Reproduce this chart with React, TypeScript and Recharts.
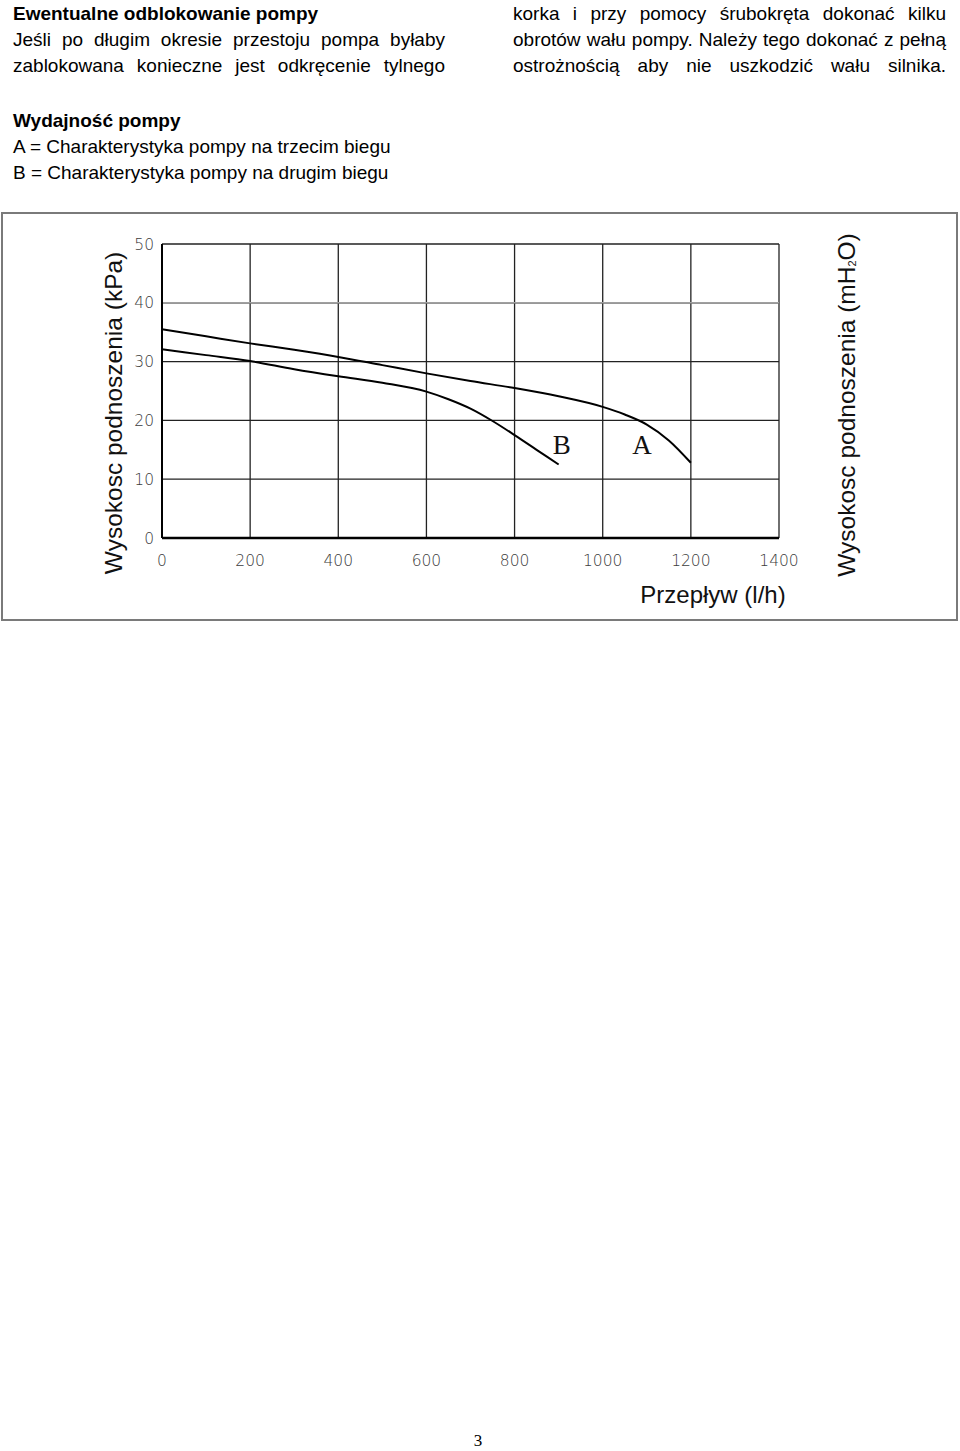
import React from 'react';
import {
  LineChart,
  Line,
  XAxis,
  YAxis,
  CartesianGrid,
  ReferenceLine,
  ReferenceDot,
} from 'recharts';

// ---- data ----
const flowA = [0, 100, 200, 300, 400, 500, 600, 700, 800, 900, 1000, 1050, 1100, 1150, 1200];
const headA = [35.5, 34.3, 33.1, 32.0, 30.8, 29.4, 28.0, 26.7, 25.5, 24.1, 22.3, 21.0, 19.3, 16.6, 12.8];
const flowB = [0, 100, 200, 300, 400, 500, 600, 650, 700, 750, 800, 850, 900];
const headB = [32.1, 31.1, 30.1, 28.7, 27.5, 26.4, 24.9, 23.6, 22.0, 19.9, 17.5, 15.0, 12.5];
const xTicks = [0, 200, 400, 600, 800, 1000, 1200, 1400];
const kpaTicks = [0, 10, 20, 30, 40, 50];
const mh2oTicks = [0, 1.02, 2.04, 3.06, 4.08, 5.1];
const curveLabels = [
  { name: 'B', flow: 907, head: 16 },
  { name: 'A', flow: 1089, head: 16 },
];

const dataA = flowA.map((x, i) => ({ x, y: headA[i] }));
const dataB = flowB.map((x, i) => ({ x, y: headB[i] }));

const tickFont = {
  fontFamily: '"DejaVu Sans", sans-serif',
  fontWeight: 200,
  fontSize: 15.5,
  fill: '#3c3c3c',
};
const titleFont = '"Liberation Sans", Arial, sans-serif';

const LeftTitle = (props: any) => {
  const vb = props.viewBox || {};
  const cx = vb.x + 11;
  const cy = vb.y + 169;
  return (
    <text
      x={cx}
      y={cy}
      transform={`rotate(-90, ${cx}, ${cy})`}
      textAnchor="middle"
      dominantBaseline="central"
      fontFamily={titleFont}
      fontSize={24.5}
      fill="#111"
    >
      Wysokosc podnoszenia (kPa)
    </text>
  );
};

const RightTitle = (props: any) => {
  const vb = props.viewBox || {};
  const cx = vb.x + 67;
  const cy = vb.y + 161;
  return (
    <text
      x={cx}
      y={cy}
      transform={`rotate(-90, ${cx}, ${cy})`}
      textAnchor="middle"
      dominantBaseline="central"
      fontFamily={titleFont}
      fontSize={24.5}
      fill="#111"
    >
      Wysokosc podnoszenia (mH
      <tspan fontSize={11} dy={6}>2</tspan>
      <tspan dy={-6}>O)</tspan>
    </text>
  );
};

const BottomTitle = (props: any) => {
  const vb = props.viewBox || {};
  return (
    <text
      x={vb.x + 551}
      y={vb.y + 65}
      textAnchor="middle"
      fontFamily={titleFont}
      fontSize={24}
      fill="#111"
    >
      Przepływ (l/h)
    </text>
  );
};

const bodyFont = '"Liberation Sans", Arial, sans-serif';

const justLine: React.CSSProperties = {
  textAlign: 'justify',
  textAlignLast: 'justify',
  whiteSpace: 'normal',
};

export default function App() {
  return (
    <div
      style={{
        position: 'absolute',
        left: 0,
        top: 0,
        width: 960,
        height: 1451,
        background: '#fff',
        fontFamily: bodyFont,
        color: '#000',
        overflow: 'hidden',
      }}
    >
      <div style={{ position: 'absolute', left: 13, top: 1, width: 432, fontSize: 19, lineHeight: '26px' }}>
        <div style={{ fontWeight: 'bold' }}>Ewentualne odblokowanie pompy</div>
        <div style={justLine}>Jeśli po długim okresie przestoju pompa byłaby</div>
        <div style={justLine}>zablokowana konieczne jest odkręcenie tylnego</div>
      </div>
      <div style={{ position: 'absolute', left: 513, top: 1, width: 433, fontSize: 19, lineHeight: '26px' }}>
        <div style={justLine}>korka i przy pomocy śrubokręta dokonać kilku</div>
        <div style={justLine}>obrotów wału pompy. Należy tego dokonać z pełną</div>
        <div style={justLine}>ostrożnością aby nie uszkodzić wału silnika.</div>
      </div>
      <div style={{ position: 'absolute', left: 13, top: 108, width: 440, fontSize: 19, lineHeight: '26px' }}>
        <div style={{ fontWeight: 'bold' }}>Wydajność pompy</div>
        <div>A = Charakterystyka pompy na trzecim biegu</div>
        <div>B = Charakterystyka pompy na drugim biegu</div>
      </div>

      <div
        style={{
          position: 'absolute',
          left: 1,
          top: 212,
          width: 957,
          height: 409,
          border: '2px solid #7a7a7a',
          boxSizing: 'border-box',
        }}
      />
      <div style={{ position: 'absolute', left: 0, top: 212 }}>
        <LineChart
          width={960}
          height={410}
          margin={{ top: 32, right: 121, bottom: 54, left: 102 }}
        >
          <CartesianGrid yAxisId="left" stroke="#222" strokeWidth={1.3} />
          <ReferenceLine yAxisId="left" y={40} stroke="#a0a0a0" strokeWidth={1.5} />
          <XAxis
            type="number"
            dataKey="x"
            domain={[0, 1400]}
            ticks={xTicks}
            interval={0}
            height={30}
            tickSize={0}
            tickMargin={17}
            axisLine={{ stroke: '#000', strokeWidth: 2.5 }}
            tick={tickFont}
            label={BottomTitle}
          />
          <YAxis
            yAxisId="left"
            type="number"
            domain={[0, 50]}
            ticks={kpaTicks}
            interval={0}
            width={60}
            tickSize={0}
            tickMargin={8}
            axisLine={{ stroke: '#000', strokeWidth: 2 }}
            tick={tickFont}
            label={LeftTitle}
          />
          <YAxis
            yAxisId="right"
            orientation="right"
            type="number"
            domain={[0, 5.1]}
            ticks={mh2oTicks}
            interval={0}
            width={60}
            tickSize={0}
            tickMargin={29}
            axisLine={false}
            tick={{ ...tickFont, textAnchor: 'middle' }}
            tickFormatter={(v: number) => (v === 0 ? '0' : v.toFixed(2))}
            label={RightTitle}
          />
          <Line
            yAxisId="left"
            data={dataA}
            dataKey="y"
            type="monotone"
            stroke="#000"
            strokeWidth={2}
            dot={false}
            isAnimationActive={false}
          />
          <Line
            yAxisId="left"
            data={dataB}
            dataKey="y"
            type="monotone"
            stroke="#000"
            strokeWidth={2}
            dot={false}
            isAnimationActive={false}
          />
          {curveLabels.map((c) => (
            <ReferenceDot
              key={c.name}
              yAxisId="left"
              x={c.flow}
              y={c.head}
              r={0}
              fill="none"
              stroke="none"
              label={{
                value: c.name,
                position: 'center',
                fontFamily: '"Liberation Serif", "Times New Roman", serif',
                fontSize: 27,
                fill: '#111',
              }}
            />
          ))}
        </LineChart>
      </div>

      <div
        style={{
          position: 'absolute',
          left: 0,
          top: 1431,
          width: 956,
          textAlign: 'center',
          fontFamily: '"Liberation Serif", "Times New Roman", serif',
          fontSize: 17,
          lineHeight: '20px',
        }}
      >
        3
      </div>
    </div>
  );
}
